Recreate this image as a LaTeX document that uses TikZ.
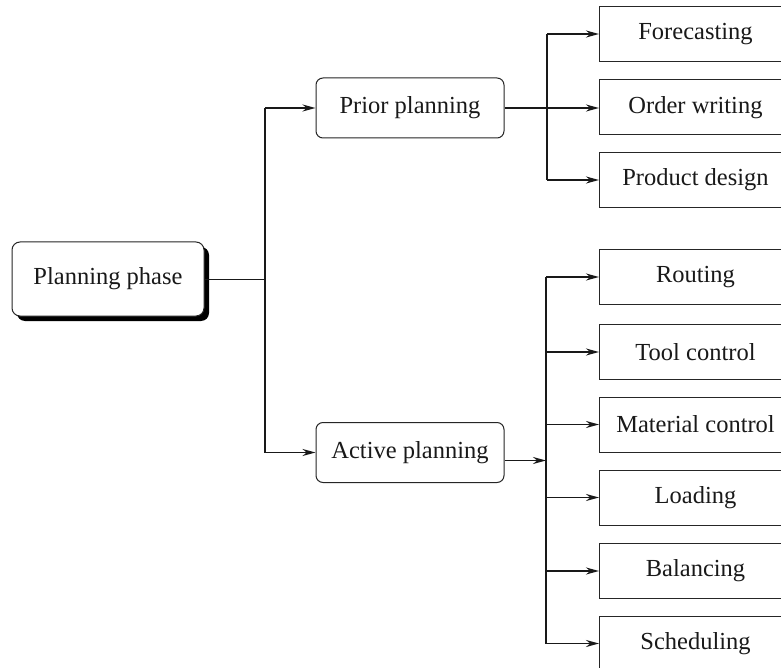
\documentclass[tikz,border=0pt]{standalone}
\usepackage{fontspec}
\setmainfont{Liberation Serif}
\usetikzlibrary{arrows.meta,shadows}
\newcommand{\dfont}{\fontsize{24.5}{27}\selectfont}
\begin{document}
\begin{tikzpicture}[x=1pt,y=-1pt,
  tbox/.style={draw=black!85, line width=1pt, rounded corners=7pt, minimum width=188pt, minimum height=60pt, font=\dfont, text=black!90, fill=white},
  leaf/.style={draw=black!85, line width=1pt, minimum width=192pt, minimum height=55pt, anchor=west, font=\dfont, text=black!90, fill=white},
  conn/.style={line width=1.9pt, black!90},
  thin/.style={line width=1pt, black!90},
  arr/.style={conn, -{Stealth[length=13pt,width=7pt]}}]
\useasboundingbox (0,0) rectangle (781,668);
\clip (0,0) rectangle (781,668);
% main nodes
\node[tbox, minimum width=192pt, minimum height=74pt, rounded corners=8pt,
      drop shadow={shadow xshift=5pt, shadow yshift=-5pt, fill=black, opacity=1}] (pp) at (108,279) {Planning phase};
\node[tbox] (prior) at (410,108) {Prior planning};
\node[tbox] (active) at (410,452.5) {Active planning};
% leaves
\node[leaf] (fc) at (599,34) {Forecasting};
\node[leaf] (ow) at (599,107.5) {Order writing};
\node[leaf] (pd) at (599,180) {Product design};
\node[leaf] (rt) at (599,277) {Routing};
\node[leaf] (tc) at (599,352) {Tool control};
\node[leaf] (mc) at (599,424.5) {Material control};
\node[leaf] (ld) at (599,497.5) {Loading};
\node[leaf] (bl) at (599,571) {Balancing};
\node[leaf] (sc) at (599,643.5) {Scheduling};
% junction coordinates
\coordinate (j1) at (265,279);
\coordinate (j2) at (547,0);
\coordinate (j3) at (546,0);
% first level
\draw[thin] (pp.east) -- (j1);
\draw[conn] (j1 |- prior.west) -- (j1 |- active.west);
\draw[arr] (j1 |- prior.west) -- (prior.west);
\draw[arr] (j1 |- active.west) -- (active.west);
% prior planning
\draw[arr] (prior.east) -- (prior.east -| ow.west);
\draw[conn] (j2 |- fc.west) -- (j2 |- pd.west);
\draw[arr] (j2 |- fc.west) -- (fc.west);
\draw[arr] (j2 |- pd.west) -- (pd.west);
% active planning
\coordinate (aout) at ([yshift=-8pt]active.east);
\draw[arr] (aout) -- (j3 |- aout);
\draw[conn] (j3 |- rt.west) -- (j3 |- sc.west);
\foreach \n in {rt,tc,mc,ld,bl,sc}
  \draw[arr] (j3 |- \n.west) -- (\n.west);
\end{tikzpicture}
\end{document}
